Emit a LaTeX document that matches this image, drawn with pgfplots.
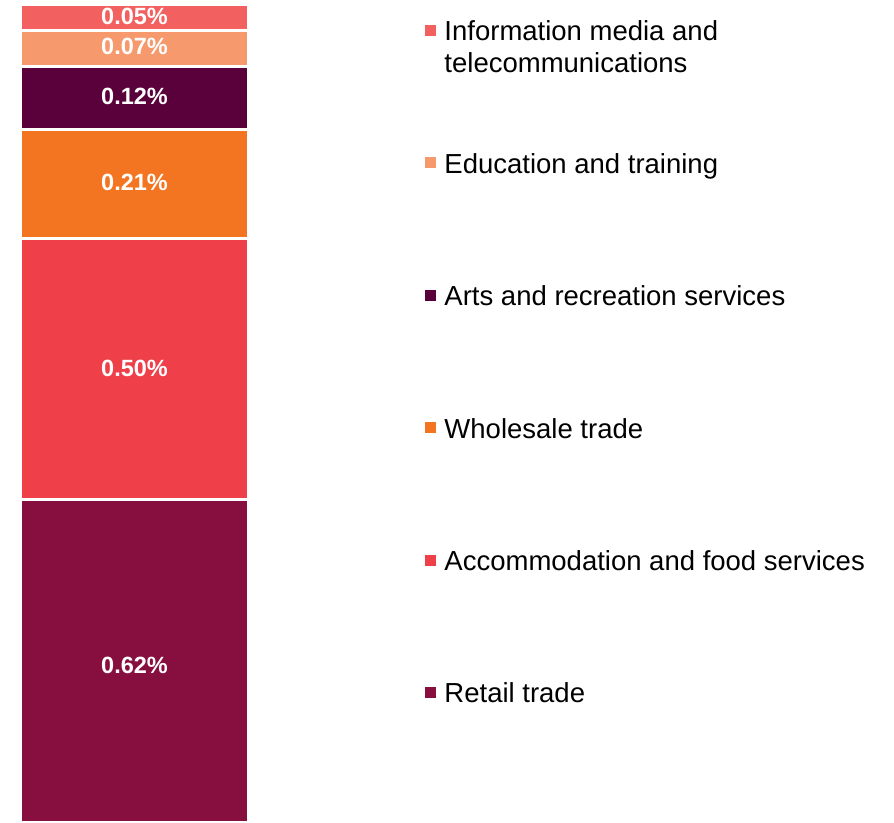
\documentclass[border=0pt]{standalone}
\usepackage{fontspec}
\setmainfont{Liberation Sans}
\usepackage{pgfplots}
\pgfplotsset{compat=1.18}
\definecolor{cInfo}{HTML}{F26060}
\definecolor{cEdu}{HTML}{F69A6E}
\definecolor{cArts}{HTML}{5A003A}
\definecolor{cWhole}{HTML}{F47521}
\definecolor{cAccom}{HTML}{EF404A}
\definecolor{cRetail}{HTML}{870F40}
\begin{document}
\begin{tikzpicture}
\begin{axis}[
  name=ax,
  scale only axis, width=894pt, height=822pt,
  xmin=0, xmax=894, ymin=0, ymax=1.578,
  hide axis,
  ybar stacked, bar width=228pt,
  reverse legend,
  legend image code/.code={\path[#1, fill] (0pt,3.5pt) rectangle (14pt,17.5pt); \path (19.5pt,10pt);},
  legend style={at={(0.4720,0.9769)}, anchor=north west, draw=none, fill=none,
    inner sep=0pt, outer sep=0pt, row sep=0pt, column sep=0pt,
    font=\fontsize{27.5}{32}\selectfont,
    cells={anchor=base west},
    nodes={inner sep=0pt, text height=22pt, text depth=110.4pt}},
]
\addplot[fill=cRetail, draw=white, line width=3pt] coordinates {(134.5,0.62)};
\addlegendentry{Retail trade}
\addplot[fill=cAccom, draw=white, line width=3pt] coordinates {(134.5,0.50)};
\addlegendentry{Accommodation and food services}
\addplot[fill=cWhole, draw=white, line width=3pt] coordinates {(134.5,0.21)};
\addlegendentry{Wholesale trade}
\addplot[fill=cArts, draw=white, line width=3pt] coordinates {(134.5,0.12)};
\addlegendentry{Arts and recreation services}
\addplot[fill=cEdu, draw=white, line width=3pt] coordinates {(134.5,0.07)};
\addlegendentry{Education and training}
\addplot[fill=cInfo, draw=white, line width=3pt] coordinates {(134.5,0.05)};
\addlegendentry{\begin{tabular}[t]{@{}l@{}}Information media and\\telecommunications\end{tabular}}
\end{axis}
\begin{axis}[
  scale only axis, width=894pt, height=822pt,
  xmin=0, xmax=894, ymin=0, ymax=1.578,
  hide axis,
  nodes near coords,
  point meta=explicit symbolic,
  every node near coord/.append style={anchor=center, inner sep=0pt, text=white, font=\fontsize{23.5}{28}\selectfont\bfseries},
]
\addplot[draw=none, mark=none, nodes near coords] coordinates {
  (134.5,0.30) [0.62\%]
  (134.5,0.87) [0.50\%]
  (134.5,1.227) [0.21\%]
  (134.5,1.393) [0.12\%]
  (134.5,1.489) [0.07\%]
  (134.5,1.547) [0.05\%]
};
\end{axis}
\pgfresetboundingbox
\path[use as bounding box] (ax.south west) rectangle (ax.north east);
\end{tikzpicture}
\end{document}
